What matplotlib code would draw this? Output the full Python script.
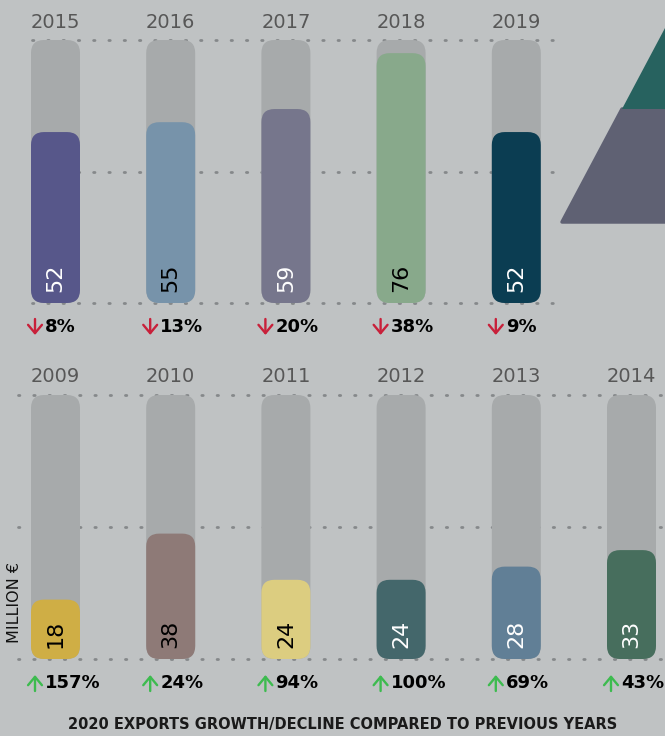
import matplotlib
matplotlib.use("Agg")
import matplotlib.pyplot as plt
from matplotlib.patches import FancyBboxPatch, Polygon
from matplotlib.transforms import offset_copy

# ---------------- data ----------------
top_years = ["2015", "2016", "2017", "2018", "2019"]
top_values = [52, 55, 59, 76, 52]
top_changes = ["8%", "13%", "20%", "38%", "9%"]
top_colors = ["#57578a", "#7793aa", "#76768c", "#88a98b", "#0b3d52"]
top_text_colors = ["white", "black", "white", "black", "white"]

bottom_years = ["2009", "2010", "2011", "2012", "2013", "2014"]
bottom_values = [18, 38, 24, 24, 28, 33]
bottom_changes = ["157%", "24%", "94%", "100%", "69%", "43%"]
bottom_colors = ["#cfae45", "#8e7a77", "#dccd80", "#44676b", "#617f96", "#476e5d"]
bottom_text_colors = ["black", "black", "black", "white", "white", "white"]

track_max = 80
grid_levels = [0, 40, 80]
unit_label = "MILLION €"
title = "2020 EXPORTS GROWTH/DECLINE COMPARED TO PREVIOUS YEARS"

# ---------------- style ----------------
W, H = 665, 736
BG = "#bfc2c3"
TRACK = "#a7aaab"
GRID = "#85888a"
YEAR_C = "#575757"
RED = "#c8203a"
GREEN = "#3dbb4f"

fig = plt.figure(figsize=(W / 100, H / 100), dpi=100, facecolor=BG)

X0, DX = 55.5, 115.2
xmin = -X0 / DX
xmax = xmin + W / DX
BAR_W = 49 / DX
RADIUS_PX = 13


def make_ax(top_px, bottom_px):
    ax = fig.add_axes([0, 1 - bottom_px / H, 1, (bottom_px - top_px) / H])
    ax.set_xlim(xmin, xmax)
    ax.set_ylim(0, track_max)
    ax.axis("off")
    ax.patch.set_alpha(0)
    return ax


def draw_panel(ax, years, values, changes, colors, tcolors, up, acolor,
               grid_x0_px, grid_x1_px, ypx):
    aspect = DX / ypx
    r = RADIUS_PX / DX
    gx0 = (grid_x0_px - X0) / DX
    gx1 = (grid_x1_px - X0) / DX
    for g in grid_levels:
        ax.plot([gx0, gx1], [g, g], color=GRID, lw=2.0,
                linestyle=(0, (0.5, 5.0)), dash_capstyle="round",
                zorder=1, clip_on=False)
    for i, (yr, v, ch, c, tc) in enumerate(zip(years, values, changes, colors, tcolors)):
        left = i - BAR_W / 2
        ax.add_patch(FancyBboxPatch((left, 0), BAR_W, track_max,
                                    boxstyle=f"round,pad=0,rounding_size={r}",
                                    mutation_aspect=aspect, fc=TRACK, ec="none",
                                    zorder=2, clip_on=False))
        ax.add_patch(FancyBboxPatch((left, 0), BAR_W, v,
                                    boxstyle=f"round,pad=0,rounding_size={r}",
                                    mutation_aspect=aspect, fc=c, ec="none",
                                    zorder=3, clip_on=False))
        ax.text(i, track_max + 18 / ypx, yr, ha="center", va="center",
                color=YEAR_C, fontsize=14, zorder=4, clip_on=False)
        ax.text(i, 11 / ypx, str(v), rotation=90, ha="center", va="bottom",
                color=tc, fontsize=16, zorder=4, clip_on=False)
        # arrow drawn as a thin line arrow with open head
        y_tail, y_head = (-16, -32) if not up else (-32, -16)
        t_tail = offset_copy(ax.transData, fig=fig, x=4, y=y_tail, units="dots")
        t_head = offset_copy(ax.transData, fig=fig, x=4, y=y_head, units="dots")
        ax.annotate("", xy=(left, 0), xycoords=t_head,
                    xytext=(left, 0), textcoords=t_tail,
                    arrowprops=dict(arrowstyle="->,head_length=0.6,head_width=0.5",
                                    lw=1.7, color=acolor, shrinkA=0, shrinkB=0),
                    annotation_clip=False, zorder=4)
        ax.annotate(ch, xy=(left, 0), xytext=(14 * 0.72, -24 * 0.72),
                    textcoords="offset points", ha="left", va="center",
                    color="black", fontsize=13, fontweight="bold", zorder=4,
                    annotation_clip=False)


# decorative pyramid (upper right)
def px(pts):
    return [(x / W, 1 - y / H) for x, y in pts]

slate = Polygon(px([(562, 222), (622, 109), (665, 109), (665, 222)]),
                closed=True, transform=fig.transFigure, fc="#5f6173",
                ec="#5f6173", lw=2.5, joinstyle="round")
teal = Polygon(px([(622, 109), (665, 28), (665, 109)]), closed=True,
               transform=fig.transFigure, fc="#27625f", ec="none")
fig.patches.extend([slate, teal])

top_px, bot_px = 40, 303
ax1 = make_ax(top_px, bot_px)
draw_panel(ax1, top_years, top_values, top_changes, top_colors, top_text_colors,
           False, RED, 32, 560, (bot_px - top_px) / track_max)

top2, bot2 = 395, 659
ax2 = make_ax(top2, bot2)
draw_panel(ax2, bottom_years, bottom_values, bottom_changes, bottom_colors,
           bottom_text_colors, True, GREEN, 18, 670, (bot2 - top2) / track_max)

fig.text(15 / W, 1 - 602 / H, unit_label, rotation=90, ha="center", va="center",
         fontsize=11.5, color="#111111")
fig.text(343 / W, 1 - 725 / H, title, ha="center", va="center",
         fontsize=10.5, fontweight="semibold", color="#1a1a1a")

fig.savefig("out.png", dpi=100, facecolor=BG)
